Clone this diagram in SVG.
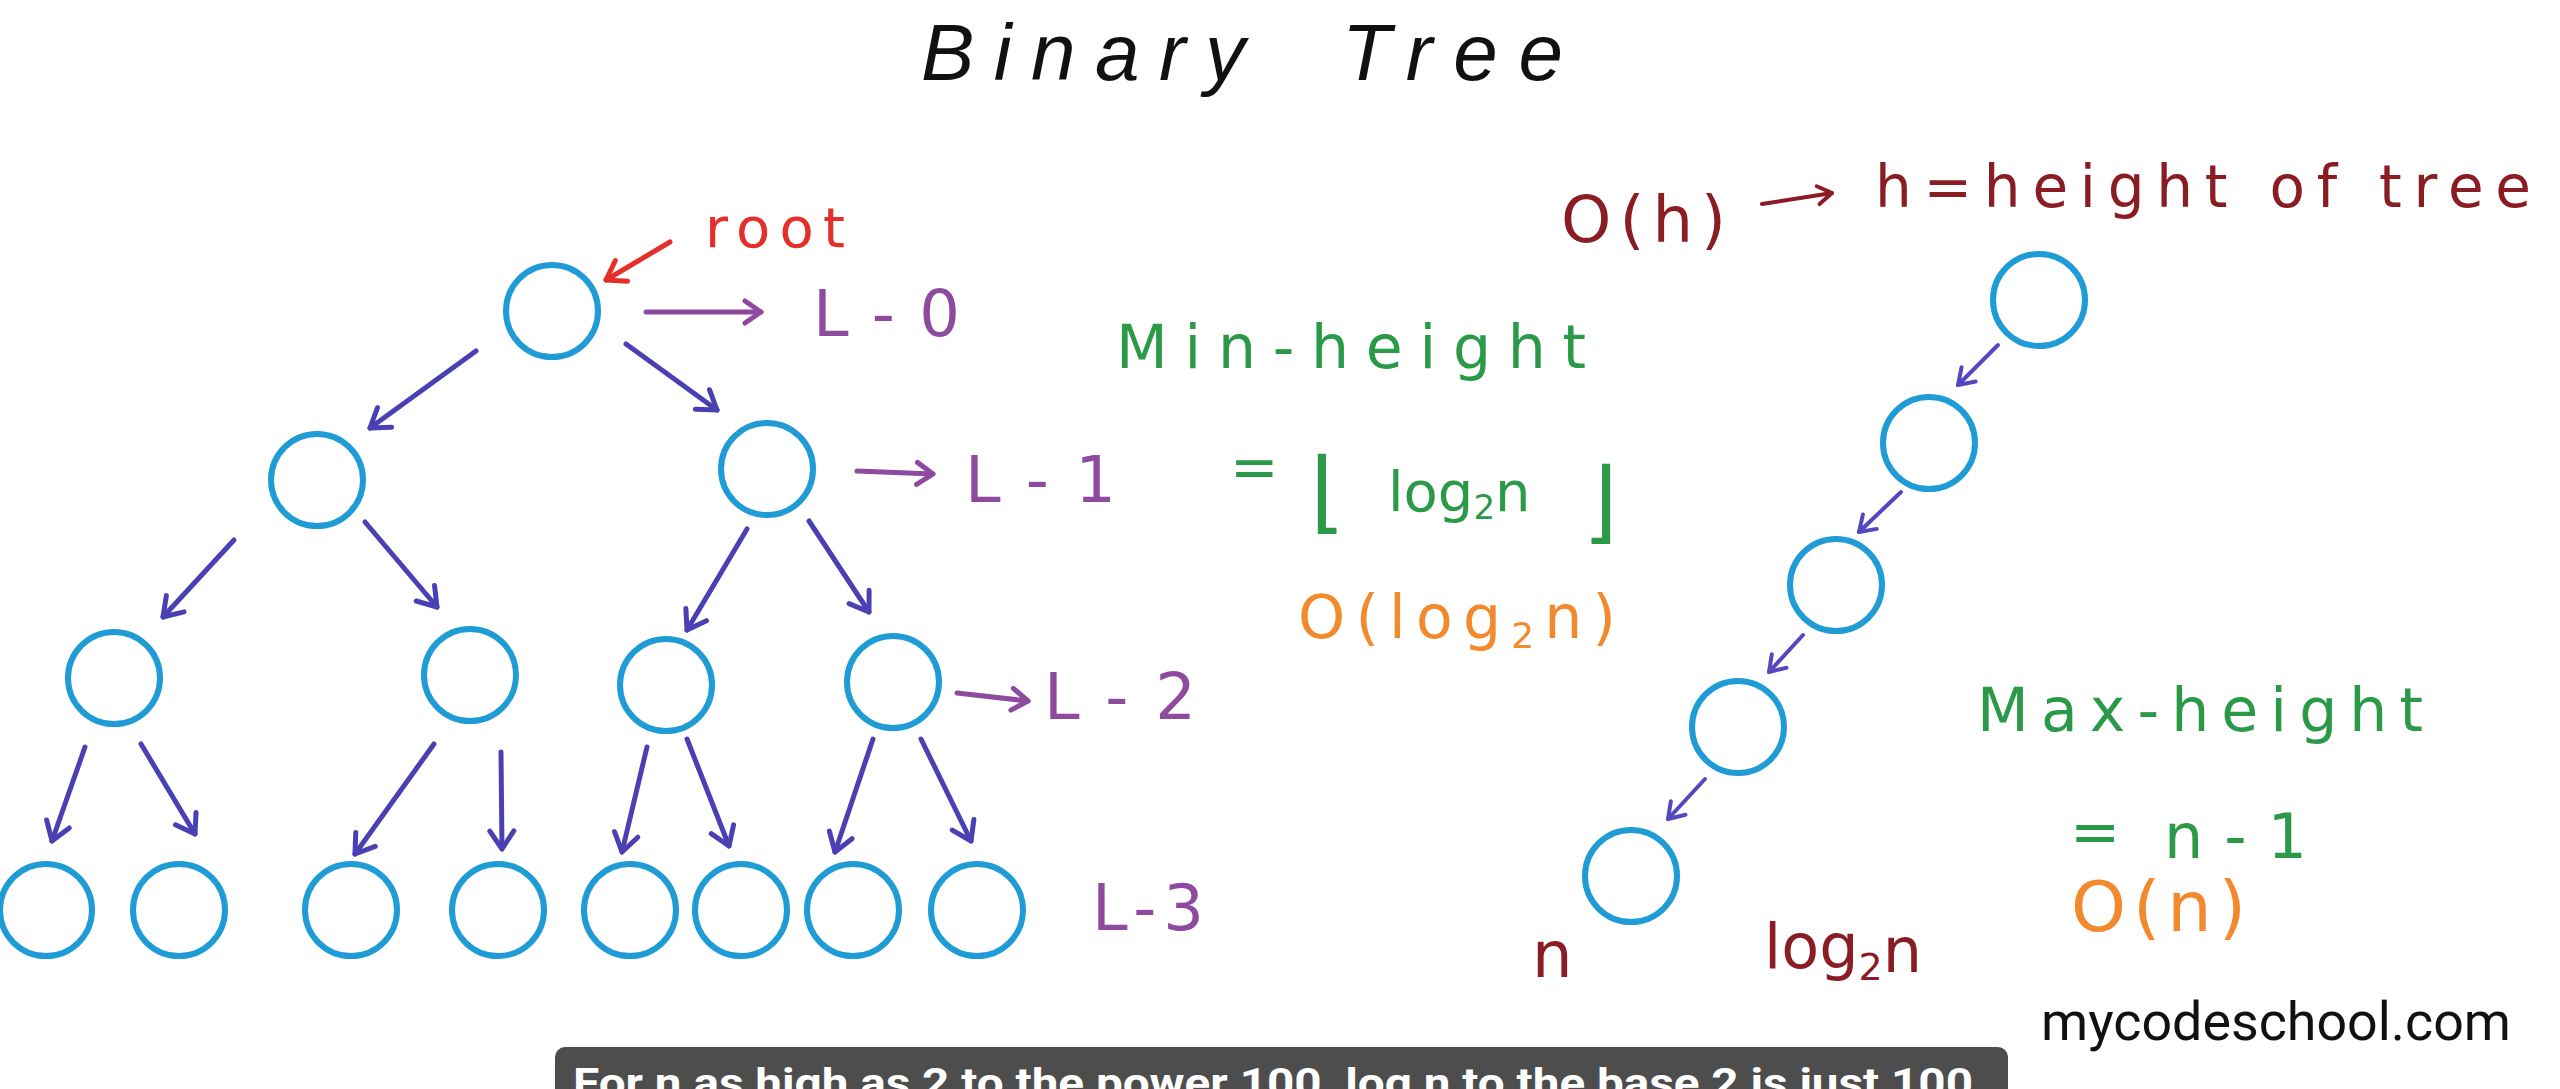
<svg xmlns="http://www.w3.org/2000/svg" width="2560" height="1089" viewBox="0 0 2560 1089">
<style>
.node{fill:none;stroke:#1f9bd6;stroke-width:6}
.edge{fill:none;stroke:#4a40b4;stroke-width:5;stroke-linecap:round}
.edge2{fill:none;stroke:#5448c0;stroke-width:4;stroke-linecap:round}
.lvl{fill:none;stroke:#8e4a9e;stroke-width:5;stroke-linecap:round}
.hw{font-family:"DejaVu Sans","Liberation Sans",sans-serif}
.title{font-family:"Liberation Sans",sans-serif;font-style:italic;font-size:80px;fill:#111}
.purple{fill:#8e4a9e}
.green{fill:#2a9a48}
.orange{fill:#f2892c}
.dred{fill:#8a1c24}
</style>
<defs>
<marker id="ahB" markerUnits="userSpaceOnUse" markerWidth="40" markerHeight="40" viewBox="-30 -20 40 40" refX="0" refY="0" orient="auto"><path d="M-18,-12 L0,0 L-18,12" fill="none" stroke="#4a40b4" stroke-width="5" stroke-linecap="round" stroke-linejoin="round"/></marker>
<marker id="ahB2" markerUnits="userSpaceOnUse" markerWidth="40" markerHeight="40" viewBox="-30 -20 40 40" refX="0" refY="0" orient="auto"><path d="M-15,-10 L0,0 L-15,10" fill="none" stroke="#5448c0" stroke-width="4" stroke-linecap="round" stroke-linejoin="round"/></marker>
<marker id="ahP" markerUnits="userSpaceOnUse" markerWidth="40" markerHeight="40" viewBox="-30 -20 40 40" refX="0" refY="0" orient="auto"><path d="M-16,-11 L0,0 L-16,11" fill="none" stroke="#8e4a9e" stroke-width="5" stroke-linecap="round" stroke-linejoin="round"/></marker>
<marker id="ahR" markerUnits="userSpaceOnUse" markerWidth="40" markerHeight="40" viewBox="-30 -20 40 40" refX="0" refY="0" orient="auto"><path d="M-18,-12 L0,0 L-18,12" fill="none" stroke="#e5302a" stroke-width="5" stroke-linecap="round" stroke-linejoin="round"/></marker>
<marker id="ahD" markerUnits="userSpaceOnUse" markerWidth="40" markerHeight="40" viewBox="-30 -20 40 40" refX="0" refY="0" orient="auto"><path d="M-14,-9 L0,0 L-14,9" fill="none" stroke="#8a1c24" stroke-width="4" stroke-linecap="round" stroke-linejoin="round"/></marker>
</defs>
<rect width="2560" height="1089" fill="#ffffff"/>

<text class="title" x="921" y="80" textLength="324" lengthAdjust="spacing">Binary</text>
<text class="title" x="1342" y="80" textLength="221" lengthAdjust="spacing">Tree</text>

<g id="nodes">
<g id="n-root"><circle class="node" cx="552" cy="311" r="46"/></g>
<g id="n-1a"><circle class="node" cx="317" cy="480" r="46"/></g>
<g id="n-1b"><circle class="node" cx="767" cy="469" r="46"/></g>
<g id="n-2a"><circle class="node" cx="114" cy="678" r="46"/></g>
<g id="n-2b"><circle class="node" cx="470" cy="675" r="46"/></g>
<g id="n-2c"><circle class="node" cx="666" cy="685" r="46"/></g>
<g id="n-2d"><circle class="node" cx="893" cy="682" r="46"/></g>
<g id="n-3a"><circle class="node" cx="46" cy="910" r="46"/></g>
<g id="n-3b"><circle class="node" cx="179" cy="910" r="46"/></g>
<g id="n-3c"><circle class="node" cx="351" cy="910" r="46"/></g>
<g id="n-3d"><circle class="node" cx="498" cy="910" r="46"/></g>
<g id="n-3e"><circle class="node" cx="630" cy="910" r="46"/></g>
<g id="n-3f"><circle class="node" cx="741" cy="910" r="46"/></g>
<g id="n-3g"><circle class="node" cx="853" cy="910" r="46"/></g>
<g id="n-3h"><circle class="node" cx="977" cy="910" r="46"/></g>
<g id="c-1"><circle class="node" cx="2039" cy="300" r="46"/></g>
<g id="c-2"><circle class="node" cx="1929" cy="443" r="46"/></g>
<g id="c-3"><circle class="node" cx="1836" cy="585" r="46"/></g>
<g id="c-4"><circle class="node" cx="1738" cy="727" r="46"/></g>
<g id="c-5"><circle class="node" cx="1631" cy="876" r="46"/></g>
</g>

<g id="connectors">
<line class="edge" x1="476" y1="351" x2="370" y2="428" marker-end="url(#ahB)"/>
<line class="edge" x1="626" y1="344" x2="717" y2="410" marker-end="url(#ahB)"/>
<line class="edge" x1="234" y1="540" x2="163" y2="617" marker-end="url(#ahB)"/>
<line class="edge" x1="365" y1="522" x2="437" y2="607" marker-end="url(#ahB)"/>
<line class="edge" x1="747" y1="529" x2="687" y2="630" marker-end="url(#ahB)"/>
<line class="edge" x1="809" y1="521" x2="869" y2="612" marker-end="url(#ahB)"/>
<line class="edge" x1="85" y1="747" x2="52" y2="841" marker-end="url(#ahB)"/>
<line class="edge" x1="141" y1="744" x2="195" y2="834" marker-end="url(#ahB)"/>
<line class="edge" x1="434" y1="744" x2="355" y2="854" marker-end="url(#ahB)"/>
<line class="edge" x1="501" y1="752" x2="502" y2="849" marker-end="url(#ahB)"/>
<line class="edge" x1="647" y1="747" x2="622" y2="852" marker-end="url(#ahB)"/>
<line class="edge" x1="687" y1="739" x2="729" y2="846" marker-end="url(#ahB)"/>
<line class="edge" x1="873" y1="739" x2="835" y2="852" marker-end="url(#ahB)"/>
<line class="edge" x1="921" y1="739" x2="971" y2="841" marker-end="url(#ahB)"/>
<line class="edge2" x1="1998" y1="345" x2="1958" y2="385" marker-end="url(#ahB2)"/>
<line class="edge2" x1="1901" y1="492" x2="1859" y2="532" marker-end="url(#ahB2)"/>
<line class="edge2" x1="1803" y1="635" x2="1769" y2="672" marker-end="url(#ahB2)"/>
<line class="edge2" x1="1705" y1="779" x2="1668" y2="819" marker-end="url(#ahB2)"/>
<line class="lvl" x1="646" y1="312" x2="761" y2="312" marker-end="url(#ahP)"/>
<line class="lvl" x1="857" y1="471" x2="933" y2="474" marker-end="url(#ahP)"/>
<line class="lvl" x1="957" y1="693" x2="1028" y2="701" marker-end="url(#ahP)"/>
<line x1="670" y1="242" x2="606" y2="280" stroke="#e5302a" stroke-width="5" stroke-linecap="round" marker-end="url(#ahR)"/>
<line x1="1762" y1="204" x2="1832" y2="193" stroke="#8a1c24" stroke-width="4" stroke-linecap="round" marker-end="url(#ahD)"/>
</g>

<g id="labels" class="hw">
<text x="705" y="247" font-size="56" fill="#e5302a" textLength="140" lengthAdjust="spacing">root</text>
<text class="purple" x="813" y="336" font-size="64" textLength="147" lengthAdjust="spacing">L-0</text>
<text class="purple" x="965" y="502" font-size="64" textLength="151" lengthAdjust="spacing">L-1</text>
<text class="purple" x="1044" y="719" font-size="64" textLength="152" lengthAdjust="spacing">L-2</text>
<text class="purple" x="1092" y="930" font-size="64" textLength="112" lengthAdjust="spacing">L-3</text>

<text class="dred" x="1561" y="242" font-size="64" textLength="165" lengthAdjust="spacing">O(h)</text>
<text class="dred" x="1875" y="207" font-size="58" textLength="656" lengthAdjust="spacing">h=height of tree</text>

<text class="green" x="1116" y="368" font-size="60" textLength="470" lengthAdjust="spacing">Min-height</text>
<text class="green" x="1230" y="487" font-size="58">=</text>
<text class="green" x="1310" y="522" font-size="90">⌊</text>
<text class="green" x="1388" y="511" font-size="56">log<tspan font-size="34" dy="8">2</tspan><tspan dy="-8">n</tspan></text>
<text class="green" x="1583" y="532" font-size="90">⌋</text>
<text class="orange" x="1298" y="638" font-size="60" textLength="318" lengthAdjust="spacing">O(log<tspan font-size="36" dy="10">2</tspan><tspan dy="-10">n)</tspan></text>

<text class="green" x="1977" y="731" font-size="60" textLength="446" lengthAdjust="spacing">Max-height</text>
<text class="green" x="2070" y="852" font-size="60">=</text>
<text class="green" x="2164" y="858" font-size="62" textLength="143" lengthAdjust="spacing">n-1</text>
<text class="orange" x="2071" y="931" font-size="70" textLength="175" lengthAdjust="spacing">O(n)</text>

<text class="dred" x="1532" y="977" font-size="64">n</text>
<text class="dred" x="1764" y="968" font-size="62">log<tspan font-size="38" dy="12">2</tspan><tspan dy="-8">n</tspan></text>

<text x="2041" y="1040" font-family="Roboto, 'Liberation Sans', sans-serif" font-size="54" fill="#111" textLength="470" lengthAdjust="spacingAndGlyphs">mycodeschool.com</text>
</g>

<g id="caption">
<rect x="555" y="1047" width="1453" height="70" rx="10" fill="#4d4d4d"/>
<text x="573" y="1097" font-family="Roboto, 'Liberation Sans', sans-serif" font-weight="bold" font-size="41" fill="#ffffff" textLength="1400" lengthAdjust="spacingAndGlyphs">For n as high as 2 to the power 100, log n to the base 2 is just 100</text>
</g>
</svg>
